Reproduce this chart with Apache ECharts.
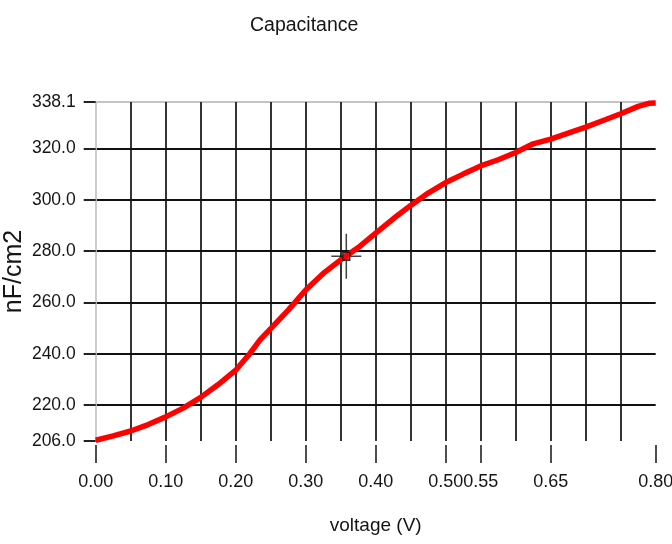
<!DOCTYPE html>
<html>
<head>
<meta charset="utf-8">
<script src="https://cdn.jsdelivr.net/npm/echarts@6/dist/echarts.min.js"></script>
<style>
  html, body { margin: 0; padding: 0; background: #ffffff; }
  #chart { width: 672px; height: 544px; }
</style>
</head>
<body>
<div id="chart"></div>
<script>
// ---- data ----
const titleText = 'Capacitance';
const xName = 'voltage (V)';
const yName = 'nF/cm2';
const voltage = [0.000, 0.025, 0.050, 0.075, 0.100, 0.125, 0.150, 0.175, 0.200, 0.220, 0.235, 0.250,
                 0.275, 0.300, 0.325, 0.350, 0.375, 0.400, 0.425, 0.450, 0.475, 0.500, 0.525,
                 0.550, 0.575, 0.600, 0.625, 0.650, 0.675, 0.700, 0.725, 0.750, 0.775, 0.790, 0.800];
const capacitance = [206.3, 208.0, 209.9, 212.4, 215.4, 218.8, 223.0, 228.0, 233.6, 240.0, 245.5, 249.8,
                     257.0, 264.8, 271.3, 276.6, 281.4, 287.0, 292.6, 297.8, 302.6, 306.7, 310.0,
                     313.2, 315.6, 318.4, 321.8, 323.6, 326.0, 328.3, 330.9, 333.5, 336.4, 337.6, 337.7];
const xLabelValues = [0.00, 0.10, 0.20, 0.30, 0.40, 0.50, 0.55, 0.65, 0.80];
const yTickValues = [206.0, 220.0, 240.0, 260.0, 280.0, 300.0, 320.0, 338.1];
const xMin = 0, xMax = 0.8, xGridStep = 0.05;
const yMin = 206.0, yMax = 338.1;
const cursorPoint = [0.358, 278.0];

// ---- styling ----
const FONT = "'Liberation Sans', Arial, sans-serif";
const TEXT = '#151515';
const GRID = '#111111';
const EDGE = '#c4c4c4';

const xGridCount = Math.round((xMax - xMin) / xGridStep) + 1;
const xGridColors = [];
for (let i = 0; i < xGridCount; i++) {
  xGridColors.push(i === 0 ? EDGE : (i === xGridCount - 1 ? 'rgba(0,0,0,0)' : GRID));
}
const yGridColors = yTickValues.map((v, i) =>
  i === 0 ? 'rgba(0,0,0,0)' : (i === yTickValues.length - 1 ? EDGE : GRID));

const chart = echarts.init(document.getElementById('chart'), null, { renderer: 'canvas' });
chart.setOption({
  backgroundColor: '#ffffff',
  animation: false,
  title: {
    text: titleText,
    left: 245,
    top: 11,
    textStyle: { fontFamily: FONT, fontSize: 19.5, fontWeight: 'normal', color: TEXT }
  },
  grid: { left: 95.7, right: 16.3, top: 102, bottom: 103, containLabel: false, outerBoundsMode: 'none' },
  xAxis: [
    {
      type: 'value', min: xMin, max: xMax, interval: xGridStep,
      axisLine: { show: false }, axisTick: { show: false }, axisLabel: { show: false },
      splitLine: { show: true, lineStyle: { color: xGridColors, width: 1.7 } }
    },
    {
      type: 'value', min: xMin, max: xMax, position: 'bottom', offset: 4,
      axisLine: { show: false },
      axisTick: { show: true, length: 18, customValues: xLabelValues, lineStyle: { color: '#222', width: 1.6 } },
      axisLabel: {
        show: true, customValues: xLabelValues, margin: 28,
        fontFamily: FONT, fontSize: 18, color: TEXT,
        formatter: v => Number(v).toFixed(2)
      },
      splitLine: { show: false },
      name: xName, nameLocation: 'middle', nameGap: 71, nameMoveOverlap: false,
      nameTextStyle: { fontFamily: FONT, fontSize: 19, color: TEXT }
    }
  ],
  yAxis: [
    {
      type: 'value', min: yMin, max: yMax, offset: 2,
      axisLine: { show: false },
      axisTick: { show: true, length: 12, customValues: yTickValues, lineStyle: { color: '#222', width: 2 } },
      axisLabel: {
        show: true, customValues: yTickValues, margin: 18,
        fontFamily: FONT, fontSize: 17.5, color: TEXT,
        formatter: v => Number(v).toFixed(1)
      },
      splitLine: { show: true, lineStyle: { color: yGridColors, width: 2 } },
      name: yName, nameLocation: 'middle', nameGap: 67, nameMoveOverlap: false,
      nameTextStyle: { fontFamily: FONT, fontSize: 25, color: TEXT }
    }
  ],
  series: [
    {
      type: 'line',
      xAxisIndex: 0, yAxisIndex: 0,
      data: voltage.map((v, i) => [v, capacitance[i]]),
      showSymbol: false, symbol: 'none', smooth: false,
      lineStyle: { color: '#ff0000', width: 5.5 },
      z: 3
    },
    {
      type: 'scatter',
      xAxisIndex: 0, yAxisIndex: 0,
      data: [cursorPoint],
      symbol: 'path://M0,21.75H11V23.25H0Z M19,21.75H30V23.25H19Z M14.25,0H15.75V18H14.25Z M14.25,27H15.75V45H14.25Z',
      symbolSize: [30, 45],
      symbolKeepAspect: false,
      itemStyle: { color: '#111' },
      silent: true,
      z: 4
    },
    {
      type: 'scatter',
      xAxisIndex: 0, yAxisIndex: 0,
      data: [cursorPoint],
      symbol: 'rect',
      symbolSize: [7, 8],
      itemStyle: { color: '#ff0000', borderColor: '#111', borderWidth: 1.5 },
      silent: true,
      z: 5
    }
  ]
});
</script>
</body>
</html>
